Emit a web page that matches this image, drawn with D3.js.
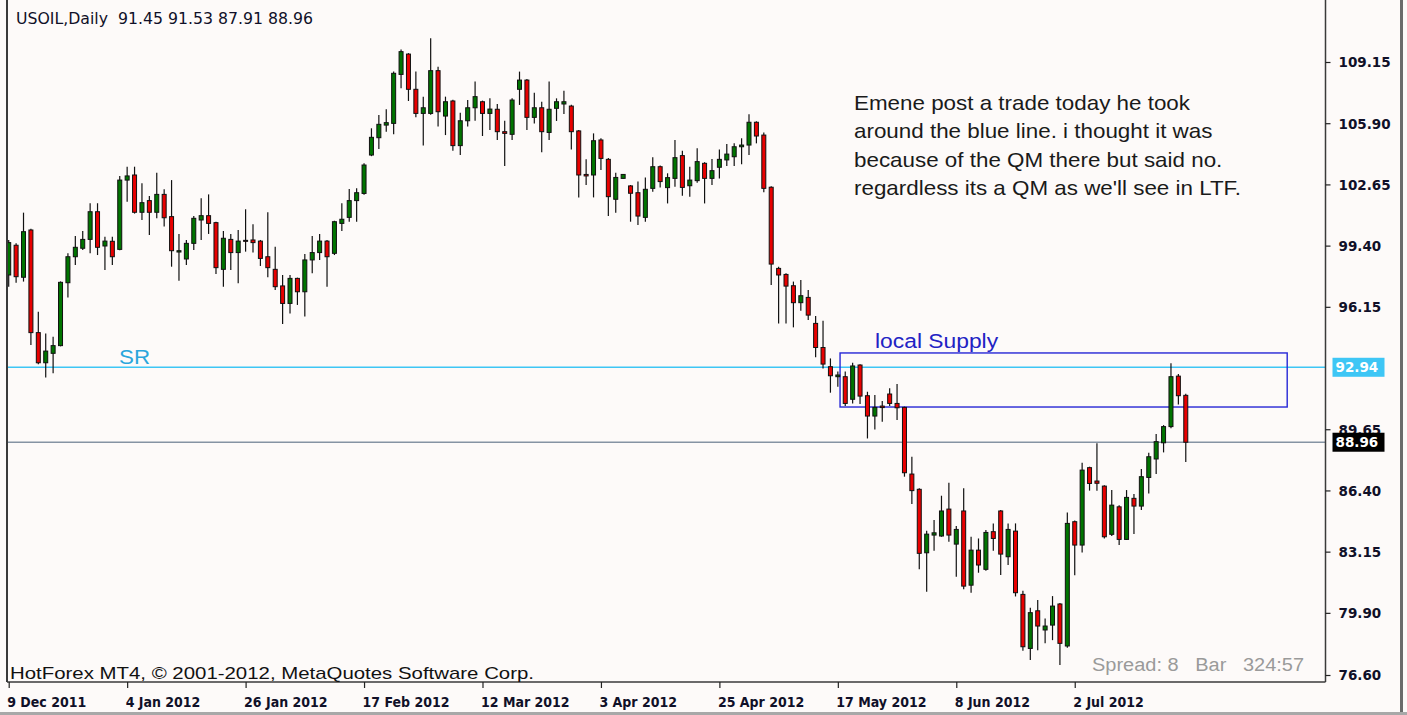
<!DOCTYPE html>
<html>
<head>
<meta charset="utf-8">
<script src="https://cdn.jsdelivr.net/npm/d3@7"></script>
<style>
  body { margin: 0; background: #fdfaf9; }
  svg { display: block; }
</style>
</head>
<body>
<svg id="chart" width="1407" height="715"></svg>
<script>
// daily bars, 9 Dec 2011 .. 20 Jul 2012
const opens = [97.84, 99.42, 97.72, 100.23, 94.78, 93.18, 93.68, 94.09, 97.43, 98.81,
  99.26, 99.73, 101.20, 99.38, 99.63, 99.20, 102.88, 103.15, 101.17, 101.79,
  101.17, 102.12, 100.94, 99.06, 98.69, 99.52, 100.76, 100.99, 100.62, 98.14,
  99.73, 99.03, 99.68, 99.70, 99.64, 98.81, 98.14, 97.26, 96.33, 97.66,
  96.95, 98.64, 99.03, 99.64, 98.99, 100.58, 100.90, 101.79, 102.17, 104.21,
  105.13, 105.80, 105.89, 108.49, 109.57, 107.70, 106.42, 106.42, 108.69, 106.28,
  107.08, 104.71, 106.03, 106.72, 107.04, 106.42, 106.64, 105.45, 105.31, 107.70,
  108.19, 106.21, 106.72, 105.41, 106.69, 106.92, 106.81, 105.49, 103.18, 103.15,
  105.01, 103.98, 101.86, 102.97, 102.57, 102.21, 100.90, 102.44, 103.59, 102.48,
  102.97, 104.18, 102.58, 102.85, 103.77, 102.97, 103.56, 103.95, 104.12, 104.65,
  104.74, 105.95, 105.27, 102.50, 98.19, 97.87, 97.27, 96.37, 96.65, 95.27,
  93.99, 92.97, 92.44, 92.44, 91.24, 93.06, 91.43, 90.35, 90.88, 91.52,
  91.02, 90.81, 87.27, 86.46, 83.09, 84.03, 83.98, 85.41, 83.55, 85.31,
  81.37, 83.23, 82.21, 84.21, 85.31, 82.88, 84.24, 80.88, 78.01, 80.01,
  78.99, 79.25, 80.37, 78.14, 84.74, 83.50, 87.61, 86.90, 86.63, 84.07,
  85.53, 83.80, 85.98, 85.57, 87.09, 88.07, 88.93, 89.79, 92.47, 91.45];

const highs = [99.70, 99.52, 101.15, 100.30, 95.89, 94.74, 94.56, 97.50, 98.99, 99.91,
  100.18, 101.65, 101.65, 99.87, 99.87, 103.10, 103.59, 103.59, 102.71, 102.03,
  103.27, 102.39, 102.88, 100.02, 99.70, 100.97, 101.91, 102.12, 100.67, 100.18,
  100.02, 100.23, 101.33, 100.53, 99.70, 101.17, 99.34, 97.84, 97.84, 97.70,
  98.95, 99.91, 100.02, 99.70, 100.72, 101.65, 102.41, 102.44, 103.77, 105.63,
  106.34, 106.64, 108.64, 109.82, 109.62, 108.64, 107.31, 110.41, 108.90, 107.31,
  107.15, 106.46, 107.13, 108.11, 107.10, 107.22, 106.92, 106.03, 107.22, 108.64,
  108.25, 107.52, 107.04, 108.11, 107.22, 107.63, 106.88, 105.54, 103.98, 105.36,
  105.10, 104.05, 103.27, 103.20, 102.62, 102.80, 103.02, 104.09, 103.65, 103.24,
  105.01, 104.44, 103.59, 104.57, 103.83, 104.00, 104.51, 104.80, 104.83, 105.10,
  106.37, 106.00, 105.40, 102.55, 98.28, 97.93, 97.49, 97.57, 97.04, 95.66,
  95.41, 93.41, 92.71, 92.71, 93.18, 93.10, 91.64, 91.47, 91.15, 91.82,
  92.05, 90.85, 88.19, 86.51, 84.26, 84.83, 86.12, 86.81, 84.51, 86.51,
  83.94, 83.85, 84.30, 84.65, 85.36, 84.65, 84.65, 81.07, 80.17, 80.58,
  79.60, 80.79, 80.42, 85.23, 84.80, 87.87, 87.66, 88.90, 86.68, 86.42,
  85.62, 86.42, 86.21, 87.54, 88.40, 89.40, 89.87, 93.15, 92.58, 91.53];

const lows = [97.22, 97.43, 97.49, 94.12, 93.10, 92.40, 92.62, 94.05, 96.65, 98.37,
  99.17, 98.99, 98.90, 98.10, 98.37, 99.15, 101.73, 101.10, 100.76, 99.96,
  100.85, 100.41, 98.28, 97.54, 98.37, 99.17, 99.70, 100.02, 97.89, 97.22,
  98.10, 97.40, 99.08, 99.03, 98.32, 97.72, 97.04, 95.24, 95.80, 96.25,
  95.63, 97.93, 98.64, 97.22, 98.90, 100.18, 100.67, 100.67, 102.10, 104.15,
  104.53, 105.45, 105.31, 107.75, 107.08, 106.21, 104.71, 106.35, 105.72, 105.27,
  104.44, 104.21, 105.72, 106.03, 105.22, 105.54, 105.01, 103.63, 105.01, 106.87,
  105.54, 105.89, 104.36, 105.01, 106.02, 106.39, 104.51, 101.96, 102.62, 101.96,
  103.41, 100.97, 101.15, 102.95, 100.67, 100.49, 100.67, 102.26, 102.48, 101.64,
  102.53, 102.05, 102.00, 102.74, 101.64, 102.62, 102.97, 103.63, 103.63, 103.72,
  104.21, 104.83, 102.23, 97.31, 95.27, 95.27, 95.06, 95.94, 95.45, 93.47,
  92.88, 91.59, 91.91, 90.88, 91.02, 90.99, 89.16, 89.64, 90.05, 90.88,
  90.14, 87.13, 85.68, 82.21, 81.02, 83.20, 83.94, 83.68, 81.82, 81.15,
  80.97, 82.03, 82.14, 83.20, 81.91, 82.44, 80.77, 77.89, 77.39, 77.92,
  78.28, 78.45, 77.13, 78.05, 81.90, 83.11, 86.39, 86.39, 83.85, 83.98,
  83.50, 83.77, 84.09, 85.36, 86.24, 87.27, 88.42, 89.70, 90.97, 87.91];

const closes = [99.56, 97.75, 100.14, 94.78, 93.18, 93.80, 94.09, 97.45, 98.81, 99.31,
  99.73, 101.20, 99.31, 99.64, 98.81, 102.88, 103.10, 101.17, 101.68, 101.17,
  102.12, 100.88, 99.13, 99.13, 99.52, 100.85, 100.99, 100.58, 98.23, 99.79,
  99.03, 99.64, 99.66, 99.56, 98.72, 98.23, 97.22, 96.33, 97.66, 96.95,
  98.64, 99.03, 99.64, 98.81, 100.67, 100.80, 101.79, 102.21, 103.68, 105.15,
  105.84, 105.93, 108.55, 109.70, 107.70, 106.42, 106.72, 108.69, 106.51, 107.04,
  104.71, 106.03, 106.72, 107.31, 106.42, 106.65, 105.45, 105.36, 107.13, 108.19,
  106.21, 106.72, 105.45, 106.64, 107.04, 107.04, 105.45, 103.15, 103.10, 104.97,
  104.03, 102.00, 103.02, 103.18, 102.18, 100.97, 102.39, 103.59, 102.80, 103.01,
  104.07, 102.49, 102.88, 103.86, 102.97, 103.38, 103.98, 104.26, 104.65, 104.74,
  105.95, 105.22, 102.44, 98.42, 97.84, 97.25, 96.37, 96.74, 95.71, 93.99,
  93.11, 92.49, 92.53, 91.02, 93.01, 91.41, 90.35, 90.81, 90.80, 91.02,
  90.79, 87.34, 86.39, 83.06, 84.08, 84.15, 85.31, 84.03, 84.33, 81.32,
  83.23, 82.44, 84.17, 83.85, 83.02, 84.33, 80.97, 78.10, 79.91, 79.20,
  79.20, 80.26, 78.28, 84.65, 83.50, 87.48, 86.77, 86.78, 83.94, 85.62,
  83.80, 86.03, 85.57, 87.13, 88.19, 88.99, 89.79, 92.44, 91.43, 88.96];

// time axis labels, every 16th bar
const tickIndex = [0, 16, 32, 48, 64, 80, 96, 112, 128, 144];
const tickLabels = ["9 Dec 2011", "4 Jan 2012", "26 Jan 2012", "17 Feb 2012", "12 Mar 2012",
  "3 Apr 2012", "25 Apr 2012", "17 May 2012", "8 Jun 2012", "2 Jul 2012"];

// price axis
const priceTicks = [109.15, 105.90, 102.65, 99.40, 96.15, 89.65, 86.40, 83.15, 79.90, 76.60];
const srLevel = 92.94;
const lastPrice = 88.96;

// "local Supply" zone: bar range and price range
const zoneBars = [112.3, 172.7];
const zonePrices = [93.70, 90.83];

const noteLines = [
  "Emene post a trade today he took",
  "around the blue line. i thought it was",
  "because of the QM there but said no.",
  "regardless its a QM as we'll see in LTF."
];

const W = 1407, H = 715;
const plot = { left: 7, right: 1325.5, top: 0, bottom: 682 };
const barStep = 7.403, firstBarX = 8.7;

const bars = opens.map((o, i) => ({ i, o, h: highs[i], l: lows[i], c: closes[i] }));

const x = d3.scaleLinear()
  .domain([0, bars.length - 1])
  .range([firstBarX, firstBarX + barStep * (bars.length - 1)]);

const y = d3.scaleLinear()
  .domain([76.60, 109.15])
  .range([675, 62]);

const svg = d3.select("#chart");

svg.append("rect").attr("width", W).attr("height", H).attr("fill", "#fdfaf9");

svg.append("clipPath").attr("id", "plotClip")
  .append("rect")
  .attr("x", plot.left).attr("y", plot.top)
  .attr("width", plot.right - plot.left).attr("height", plot.bottom - plot.top);

const g = svg.append("g").attr("clip-path", "url(#plotClip)");

// horizontal lines: SR and last price
g.append("line")
  .attr("x1", plot.left).attr("x2", plot.right)
  .attr("y1", y(srLevel)).attr("y2", y(srLevel))
  .attr("stroke", "#3ec6f5").attr("stroke-width", 1.5);

g.append("line")
  .attr("x1", plot.left).attr("x2", plot.right)
  .attr("y1", y(lastPrice)).attr("y2", y(lastPrice))
  .attr("stroke", "#8593a3").attr("stroke-width", 1.5);

// supply zone rectangle
g.append("rect")
  .attr("x", x(zoneBars[0]))
  .attr("y", y(zonePrices[0]))
  .attr("width", x(zoneBars[1]) - x(zoneBars[0]))
  .attr("height", y(zonePrices[1]) - y(zonePrices[0]))
  .attr("fill", "none")
  .attr("stroke", "#2626d6")
  .attr("stroke-width", 1.4);

// candles
const candle = g.selectAll(".candle")
  .data(bars)
  .enter().append("g")
  .attr("class", "candle");

candle.append("line")
  .attr("x1", d => x(d.i)).attr("x2", d => x(d.i))
  .attr("y1", d => y(d.h)).attr("y2", d => y(d.l))
  .attr("stroke", "#111").attr("stroke-width", 1.2);

const bodyW = 4;
candle.append("rect")
  .attr("x", d => x(d.i) - bodyW / 2)
  .attr("y", d => y(Math.max(d.o, d.c)))
  .attr("width", bodyW)
  .attr("height", d => Math.max(1, Math.abs(y(d.o) - y(d.c))))
  .attr("fill", d => d.c >= d.o ? "#007400" : "#e80000")
  .attr("stroke", "#111")
  .attr("stroke-width", 1);

// frame lines
svg.append("line")
  .attr("x1", plot.left).attr("x2", plot.left)
  .attr("y1", plot.top).attr("y2", plot.bottom)
  .attr("stroke", "#3a3a3a").attr("stroke-width", 2);
svg.append("line")
  .attr("x1", plot.left).attr("x2", plot.right)
  .attr("y1", plot.bottom).attr("y2", plot.bottom)
  .attr("stroke", "#3a3a3a").attr("stroke-width", 1.5);
svg.append("line")
  .attr("x1", plot.right).attr("x2", plot.right)
  .attr("y1", plot.top).attr("y2", plot.bottom)
  .attr("stroke", "#3a3a3a").attr("stroke-width", 1.5);

// outer border right / bottom
svg.append("line")
  .attr("x1", 1401.5).attr("x2", 1401.5).attr("y1", 0).attr("y2", H)
  .attr("stroke", "#6b6b6b").attr("stroke-width", 3);
svg.append("line")
  .attr("x1", 0).attr("x2", W).attr("y1", 713.5).attr("y2", 713.5)
  .attr("stroke", "#a8a8a8").attr("stroke-width", 3);

// price axis
const yAxis = d3.axisRight(y)
  .tickValues(priceTicks)
  .tickFormat(d3.format(".2f"))
  .tickSize(5)
  .tickPadding(8);

const yAxisG = svg.append("g")
  .attr("transform", `translate(${plot.right},0)`)
  .call(yAxis);
yAxisG.select(".domain").remove();
yAxisG.selectAll("line").attr("stroke", "#222").attr("stroke-width", 1.2);
yAxisG.selectAll("text")
  .attr("fill", "#101028")
  .style("font-family", "DejaVu Sans")
  .style("font-weight", "bold")
  .style("font-size", "13.5px")
  .attr("dy", "0.36em");

// time axis
const xAxis = d3.axisBottom(x)
  .tickValues(tickIndex)
  .tickFormat((d, k) => tickLabels[k])
  .tickSize(6)
  .tickPadding(9);

const xAxisG = svg.append("g")
  .attr("transform", `translate(0,${plot.bottom})`)
  .call(xAxis);
xAxisG.select(".domain").remove();
xAxisG.selectAll("line").attr("stroke", "#222").attr("stroke-width", 1.2);
xAxisG.selectAll("text")
  .attr("text-anchor", "start")
  .attr("dx", -2)
  .attr("fill", "#101028")
  .style("font-family", "DejaVu Sans Condensed, DejaVu Sans")
  .style("font-weight", "bold")
  .style("font-size", "14px");

// price markers on the axis
function priceMarker(value, bg, fg) {
  const my = y(value);
  svg.append("rect")
    .attr("x", plot.right + 7).attr("y", my - 9.5)
    .attr("width", 52).attr("height", 19)
    .attr("fill", bg);
  svg.append("text")
    .attr("x", plot.right + 10).attr("y", my)
    .attr("dy", "0.36em")
    .attr("fill", fg)
    .style("font-family", "DejaVu Sans")
    .style("font-weight", "bold")
    .style("font-size", "13.5px")
    .text(d3.format(".2f")(value));
}
priceMarker(srLevel, "#3ec6f5", "#ffffff");
priceMarker(lastPrice, "#000000", "#ffffff");

// texts
svg.append("text")
  .attr("x", 16).attr("y", 24)
  .attr("fill", "#101028")
  .style("font-family", "DejaVu Sans")
  .style("font-size", "15px")
  .style("white-space", "pre")
  .attr("textLength", 297).attr("lengthAdjust", "spacingAndGlyphs")
  .text("USOIL,Daily  91.45 91.53 87.91 88.96");

svg.append("text")
  .attr("x", 10).attr("y", 679)
  .attr("fill", "#111")
  .style("font-family", "Liberation Sans")
  .style("font-size", "17px")
  .attr("textLength", 524).attr("lengthAdjust", "spacingAndGlyphs")
  .text("HotForex MT4, © 2001-2012, MetaQuotes Software Corp.");

svg.append("text")
  .attr("x", 1092).attr("y", 671)
  .attr("fill", "#9a9a9a")
  .style("font-family", "Liberation Sans")
  .style("font-size", "18px")
  .style("white-space", "pre")
  .attr("textLength", 212).attr("lengthAdjust", "spacingAndGlyphs")
  .text("Spread: 8   Bar   324:57");

svg.append("text")
  .attr("x", x(zoneBars[0]) + 35).attr("y", y(zonePrices[0]) - 5)
  .attr("fill", "#2222c4")
  .style("font-family", "Liberation Sans")
  .style("font-size", "20px")
  .attr("textLength", 123).attr("lengthAdjust", "spacingAndGlyphs")
  .text("local Supply");

svg.append("text")
  .attr("x", 119).attr("y", y(srLevel) - 3)
  .attr("fill", "#2aa6dc")
  .style("font-family", "Liberation Sans")
  .style("font-size", "20px")
  .attr("textLength", 31).attr("lengthAdjust", "spacingAndGlyphs")
  .text("SR");

const note = svg.append("g")
  .attr("transform", "translate(854,110) scale(1.12,1)");
note.selectAll("text")
  .data(noteLines)
  .enter().append("text")
  .attr("x", 0)
  .attr("y", (d, k) => k * 28.3)
  .attr("fill", "#1a1a1a")
  .style("font-family", "Liberation Sans")
  .style("font-size", "20px")
  .text(d => d);
</script>
</body>
</html>
